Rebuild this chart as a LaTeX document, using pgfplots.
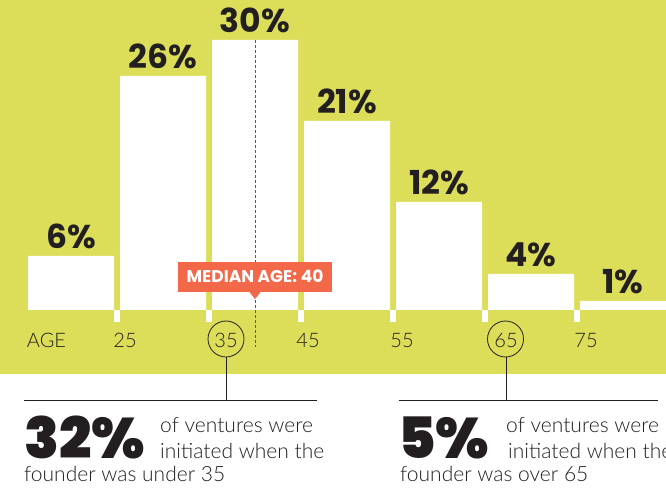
\documentclass[border=0pt]{standalone}
\usepackage{pgfplots}
\pgfplotsset{compat=1.18}
\usepackage{fontspec}
\setmainfont{Lato Light}
\newfontfamily\boldfont{Poppins Bold}
\newfontfamily\heavyfont{Poppins Black}
\definecolor{bg}{HTML}{DCDE5A}
\definecolor{callout}{HTML}{F26849}
\definecolor{ink}{HTML}{231F20}
\begin{document}
\begin{tikzpicture}[x=1pt,y=1pt]
\useasboundingbox (0,0) rectangle (666,487);
\clip (0,0) rectangle (666,487);
\fill[white] (0,0) rectangle (666,487);
\fill[bg] (0,113) rectangle (666,487);
\begin{axis}[at={(0,0)}, anchor=south west, scale only axis, width=666pt, height=487pt,
  xmin=12.2826, xmax=84.6739, ymin=-19.6667, ymax=34.4444, hide axis, clip=false]
\addplot[ybar, bar width=86pt, fill=white, draw=none, point meta=explicit symbolic,
  nodes near coords,
  nodes near coords style={anchor=base, yshift=7pt, inner sep=0pt, text depth=0pt, font=\boldfont\fontsize{33}{33}\selectfont, text=ink}]
  coordinates {(20,6)[6\%] (30,26)[26\%] (40,30)[30\%] (50,21)[21\%] (60,12)[12\%] (70,4)[4\%] (80,1)[1\%]};
\addplot[ycomb, draw=white, line width=6pt, mark=none]
  coordinates {(25,-1.3333) (35,-1.3333) (45,-1.3333) (55,-1.3333) (65,-1.3333) (75,-1.3333)};
\draw[black!65, dash pattern=on 3pt off 2pt, line width=0.7pt] (axis cs:40,30) -- (axis cs:40,-4.11);
\end{axis}
% callout
\fill[callout] (178,195) rectangle (332,225);
\fill[callout] (249,195.5) -- (261,195.5) -- (255,188) -- cycle;
\node[anchor=base, inner sep=0, text=white, font=\boldfont\fontsize{17}{17}\selectfont] at (255,204) {MEDIAN AGE: 40};
% axis labels
\begin{scope}[every node/.style={anchor=base, inner sep=0, text=ink, font=\fontsize{20}{20}\selectfont}]
\node at (46.5,139) {AGE};
\node at (125,139) {25};
\node at (226,139) {35};
\node at (308,139) {45};
\node at (402,139) {55};
\node at (506,139) {65};
\node at (586,139) {75};
\end{scope}
% circles and connectors
\draw[ink, line width=0.8pt] (226,148) circle (18);
\draw[ink, line width=0.8pt] (505.5,148) circle (18);
\draw[ink, line width=1pt] (226,130) -- (226,86);
\draw[ink, line width=1pt] (24,86) -- (317,86);
\draw[ink, line width=1pt] (506,130) -- (506,86);
\draw[ink, line width=1pt] (399,86) -- (658,86);
% bottom annotations
\begin{scope}[every node/.style={anchor=base west, inner sep=0, text depth=0pt, text=ink, font=\fontsize{21}{21}\selectfont}]
\node[font=\heavyfont\fontsize{57}{57}\selectfont] at (24,29) {32\%};
\node at (160,54) {of ventures were};
\node at (160,29) {initiated when the};
\node at (24,6) {founder was under 35};
\node[font=\heavyfont\fontsize{57}{57}\selectfont] at (398,29) {5\%};
\node at (506,54) {of ventures were};
\node at (508,29) {initiated when the};
\node at (400,6) {founder was over 65};
\end{scope}
\end{tikzpicture}
\end{document}
